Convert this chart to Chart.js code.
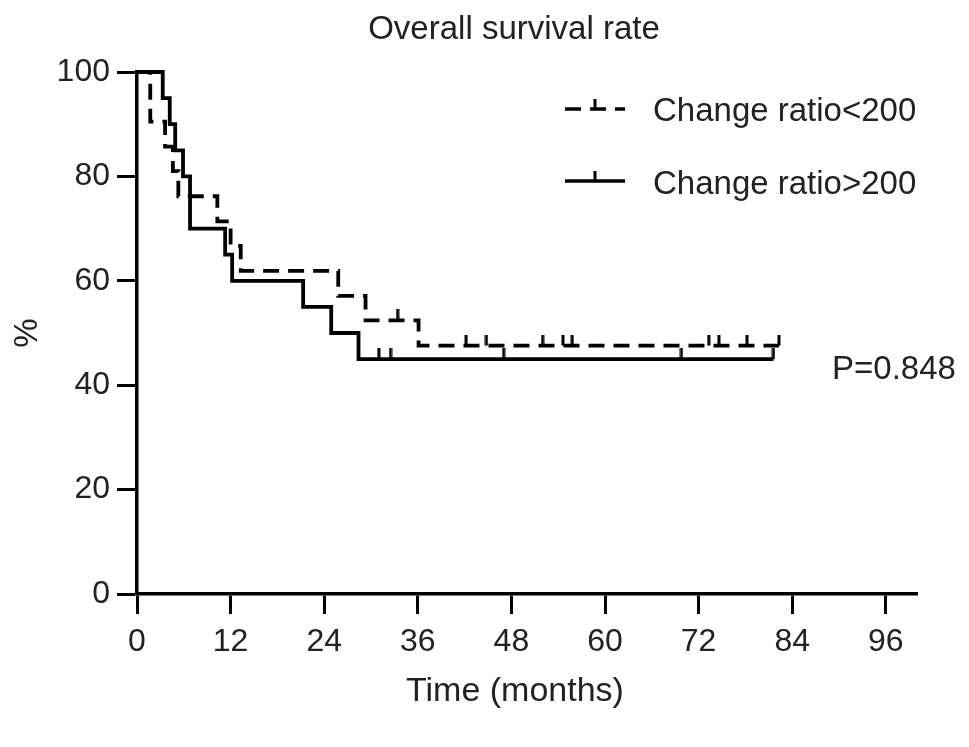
<!DOCTYPE html>
<html>
<head>
<meta charset="utf-8">
<script src="https://cdn.jsdelivr.net/npm/chart.js@4.4.0/dist/chart.umd.min.js"></script>
<style>
  html, body { margin:0; padding:0; background:#fff; }
  #wrap { position:relative; width:969px; height:747px; font-family:"Liberation Sans", Arial, sans-serif; color:#222; }
  canvas { position:absolute; left:0; top:0; }
  .txt { position:absolute; white-space:nowrap; font-size:33px; line-height:1; }
  #title { left:0; width:1028px; text-align:center; top:11px; }
  #xtitle { left:0; width:1030px; text-align:center; top:672px; font-size:34px; }
  .leg { position:absolute; }
</style>
</head>
<body>
<div id="wrap">
  <canvas id="c" width="969" height="747"></canvas>
  <div class="txt" id="title">Overall survival rate</div>
  <div class="txt" id="xtitle">Time (months)</div>
  <svg class="leg" style="left:560px;top:95px" width="70" height="110">
    <line x1="5" y1="14" x2="65" y2="14" stroke="#000" stroke-width="3.5" stroke-dasharray="16 9"/>
    <line x1="35" y1="4" x2="35" y2="14" stroke="#000" stroke-width="3"/>
    <line x1="5" y1="86" x2="65" y2="86" stroke="#000" stroke-width="3.5"/>
    <line x1="35" y1="76" x2="35" y2="86" stroke="#000" stroke-width="3"/>
  </svg>
  <div class="txt" style="left:653px;top:93px">Change ratio&lt;200</div>
  <div class="txt" style="left:653px;top:166px">Change ratio&gt;200</div>
  <div class="txt" style="left:832px;top:351px">P=0.848</div>
</div>
<script>
// Kaplan-Meier: Change ratio<200 (dashed)
const lowTimes = [0, 1.7, 3.6, 4.6, 5.3, 10.3, 12.0, 13.3, 25.8, 29.3, 36.1, 82.3];
const lowSurv  = [100, 90.5, 85.7, 81.0, 76.2, 71.4, 66.7, 61.9, 57.1, 52.4, 47.6, 47.6];
const lowCensorT = [33.4, 42.2, 44.8, 52.0, 54.6, 55.8, 73.3, 74.6, 78.2, 82.3];
const lowCensorS = [52.4, 47.6, 47.6, 47.6, 47.6, 47.6, 47.6, 47.6, 47.6, 47.6];
// Change ratio>200 (solid)
const highTimes = [0, 3.3, 4.2, 4.9, 5.9, 6.8, 11.3, 12.2, 21.3, 24.9, 28.4, 81.6];
const highSurv  = [100, 95, 90, 85, 80, 70, 65, 60, 55, 50, 45, 45];
const highCensorT = [31.0, 32.5, 47.0, 69.8, 81.6];
const highCensorS = [45, 45, 45, 45, 45];
// Axis ticks
const xTicks = [0, 12, 24, 36, 48, 60, 72, 84, 96];
const yTicks = [0, 20, 40, 60, 80, 100];

const pts = (t, s) => t.map((v, i) => ({x: v, y: s[i]}));

// censor tick mark: vertical line going upward from the point
const mark = document.createElement('canvas');
mark.width = 4; mark.height = 22;
const mctx = mark.getContext('2d');
mctx.fillStyle = '#000';
mctx.fillRect(0.5, 0, 3, 11);

const font = {family: '"Liberation Sans", Arial, sans-serif', size: 32};

new Chart(document.getElementById('c'), {
  type: 'line',
  data: {
    datasets: [
      { data: pts(lowTimes, lowSurv), stepped: true, borderColor: '#000', borderWidth: 3.8,
        borderDash: [16, 9], pointRadius: 0, fill: false, clip: false },
      { data: pts(highTimes, highSurv), stepped: true, borderColor: '#000', borderWidth: 3.8,
        pointRadius: 0, fill: false, clip: false },
      { data: pts(lowCensorT, lowCensorS), showLine: false, pointStyle: mark, pointRadius: 6, clip: false },
      { data: pts(highCensorT, highCensorS), showLine: false, pointStyle: mark, pointRadius: 6, clip: false }
    ]
  },
  options: {
    responsive: false,
    animation: false,
    devicePixelRatio: 1,
    layout: { padding: { top: 72, right: 52, left: 0, bottom: 0 } },
    plugins: { legend: { display: false }, tooltip: { enabled: false } },
    scales: {
      x: {
        type: 'linear', min: 0, max: 100,
        afterBuildTicks: s => { s.ticks = xTicks.map(v => ({value: v})); },
        afterFit: s => { s.height = 153; },
        grid: { drawOnChartArea: false, drawTicks: true, tickLength: 20, tickWidth: 3, tickColor: '#000' },
        border: { display: true, width: 3.5, color: '#000' },
        ticks: { color: '#222', font: font, padding: 9, maxRotation: 0, autoSkip: false },
        title: { display: false }
      },
      y: {
        type: 'linear', min: 0, max: 100,
        afterBuildTicks: s => { s.ticks = yTicks.map(v => ({value: v})); },
        afterFit: s => { s.width = 137; },
        grid: { drawOnChartArea: false, drawTicks: true, tickLength: 20, tickWidth: 3, tickColor: '#000' },
        border: { display: true, width: 3.5, color: '#000' },
        ticks: { color: '#222', font: font, padding: 7, autoSkip: false },
        title: { display: true, text: '%', color: '#222', font: {family: font.family, size: 33},
                 padding: { top: 8, bottom: 0 } }
      }
    }
  }
});
</script>
</body>
</html>
